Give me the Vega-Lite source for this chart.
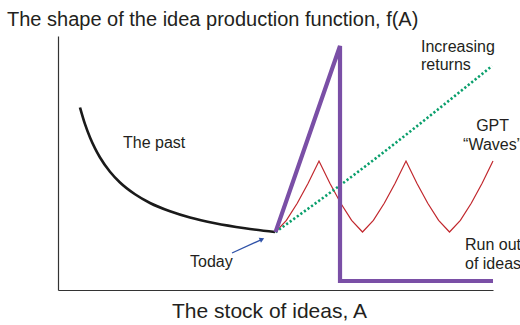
{
  "$schema": "https://vega.github.io/schema/vega-lite/v6.json",
  "autosize": "none",
  "width": 435,
  "height": 254,
  "padding": {"left": 58, "top": 36, "right": 27, "bottom": 35},
  "background": "white",
  "config": {
    "font": "Liberation Sans",
    "view": {"stroke": null},
    "axis": {"grid": false, "ticks": false, "labels": false, "domainColor": "#333333", "domainWidth": 1.2}
  },
  "title": {
    "text": "The shape of the idea production function, f(A)",
    "anchor": "start",
    "frame": "group",
    "fontSize": 20,
    "fontWeight": "normal",
    "color": "#231f20",
    "dx": -51,
    "offset": 6
  },
  "datasets": {
    "past": [
      {"x": 5.06, "y": 71.85}, {"x": 6.21, "y": 65.28}, {"x": 7.36, "y": 60.04},
      {"x": 8.51, "y": 55.75}, {"x": 9.66, "y": 52.17}, {"x": 11.95, "y": 46.54},
      {"x": 14.25, "y": 42.32}, {"x": 17.70, "y": 37.68}, {"x": 21.15, "y": 34.25},
      {"x": 25.75, "y": 30.98}, {"x": 30.34, "y": 28.54}, {"x": 36.09, "y": 26.30},
      {"x": 42.99, "y": 24.33}, {"x": 49.89, "y": 22.83}
    ],
    "runout": [
      {"o": 1, "x": 50.0, "y": 22.8}, {"o": 2, "x": 64.83, "y": 96.06},
      {"o": 3, "x": 64.83, "y": 3.54}, {"o": 4, "x": 100.0, "y": 3.54}
    ],
    "increasing": [
      {"x": 50.0, "y": 22.8}, {"x": 64.94, "y": 41.34}, {"x": 99.77, "y": 88.19}
    ],
    "waves": [
      {"x": 50.0, "y": 22.83}, {"x": 52.5, "y": 27.44}, {"x": 55.0, "y": 34.17}, {"x": 57.5, "y": 42.05},
      {"x": 60.0, "y": 50.79}, {"x": 62.5, "y": 42.05}, {"x": 65.0, "y": 34.17}, {"x": 67.5, "y": 27.44},
      {"x": 70.0, "y": 22.83}, {"x": 72.5, "y": 27.44}, {"x": 75.0, "y": 34.17}, {"x": 77.5, "y": 42.05},
      {"x": 80.0, "y": 50.79}, {"x": 82.5, "y": 42.05}, {"x": 85.0, "y": 34.17}, {"x": 87.5, "y": 27.44},
      {"x": 90.0, "y": 22.83}, {"x": 92.5, "y": 27.44}, {"x": 95.0, "y": 34.17}, {"x": 97.5, "y": 42.05},
      {"x": 100.0, "y": 50.79}
    ],
    "arrow": [
      {"x": 40.0, "y": 14.57, "x2": 46.9, "y2": 19.96}
    ],
    "labels_left": [
      {"text": "The past", "x": 14.94, "y": 57.87},
      {"text": "Today", "x": 30.34, "y": 11.0},
      {"text": "Increasing", "x": 83.45, "y": 95.67},
      {"text": "returns", "x": 83.45, "y": 88.58},
      {"text": "Run out", "x": 93.56, "y": 17.72},
      {"text": "of ideas", "x": 93.56, "y": 10.24}
    ],
    "labels_center": [
      {"text": "GPT", "x": 99.9, "y": 64.57},
      {"text": "“Waves”", "x": 99.9, "y": 57.09}
    ]
  },
  "layer": [
    {
      "data": {"name": "past"},
      "mark": {"type": "line", "color": "#1a1a1a", "strokeWidth": 2.6, "interpolate": "monotone"},
      "encoding": {
        "x": {"field": "x", "type": "quantitative", "scale": {"domain": [0, 100], "nice": false, "zero": false},
              "axis": {"title": "The stock of ideas, A", "titleFontSize": 21, "titleFontWeight": "normal", "titleColor": "#231f20", "titlePadding": 10, "titleX": 211}},
        "y": {"field": "y", "type": "quantitative", "scale": {"domain": [0, 100], "nice": false, "zero": false},
              "axis": {"title": null}}
      }
    },
    {
      "data": {"name": "waves"},
      "mark": {"type": "line", "color": "#c1272d", "strokeWidth": 1.2},
      "encoding": {
        "x": {"field": "x", "type": "quantitative"},
        "y": {"field": "y", "type": "quantitative"}
      }
    },
    {
      "data": {"name": "increasing"},
      "mark": {"type": "line", "color": "#0a9f6c", "strokeWidth": 2.6, "strokeDash": [2.2, 2.2], "interpolate": "monotone"},
      "encoding": {
        "x": {"field": "x", "type": "quantitative"},
        "y": {"field": "y", "type": "quantitative"}
      }
    },
    {
      "data": {"name": "runout"},
      "mark": {"type": "line", "color": "#7a4fa6", "strokeWidth": 4.2, "strokeJoin": "miter"},
      "encoding": {
        "x": {"field": "x", "type": "quantitative"},
        "y": {"field": "y", "type": "quantitative"},
        "order": {"field": "o", "type": "quantitative"}
      }
    },
    {
      "data": {"name": "arrow"},
      "mark": {"type": "rule", "color": "#2f52a8", "strokeWidth": 1.3},
      "encoding": {
        "x": {"field": "x", "type": "quantitative"},
        "y": {"field": "y", "type": "quantitative"},
        "x2": {"field": "x2"},
        "y2": {"field": "y2"}
      }
    },
    {
      "data": {"name": "arrow"},
      "mark": {"type": "point", "shape": "triangle-right", "filled": true, "color": "#2f52a8", "size": 30, "angle": -24, "opacity": 1},
      "encoding": {
        "x": {"field": "x2", "type": "quantitative"},
        "y": {"field": "y2", "type": "quantitative"}
      }
    },
    {
      "data": {"name": "labels_left"},
      "mark": {"type": "text", "fontSize": 16, "color": "#231f20", "baseline": "middle", "align": "left"},
      "encoding": {
        "x": {"field": "x", "type": "quantitative"},
        "y": {"field": "y", "type": "quantitative"},
        "text": {"field": "text"}
      }
    },
    {
      "data": {"name": "labels_center"},
      "mark": {"type": "text", "fontSize": 16, "color": "#231f20", "baseline": "middle", "align": "center"},
      "encoding": {
        "x": {"field": "x", "type": "quantitative"},
        "y": {"field": "y", "type": "quantitative"},
        "text": {"field": "text"}
      }
    }
  ]
}
